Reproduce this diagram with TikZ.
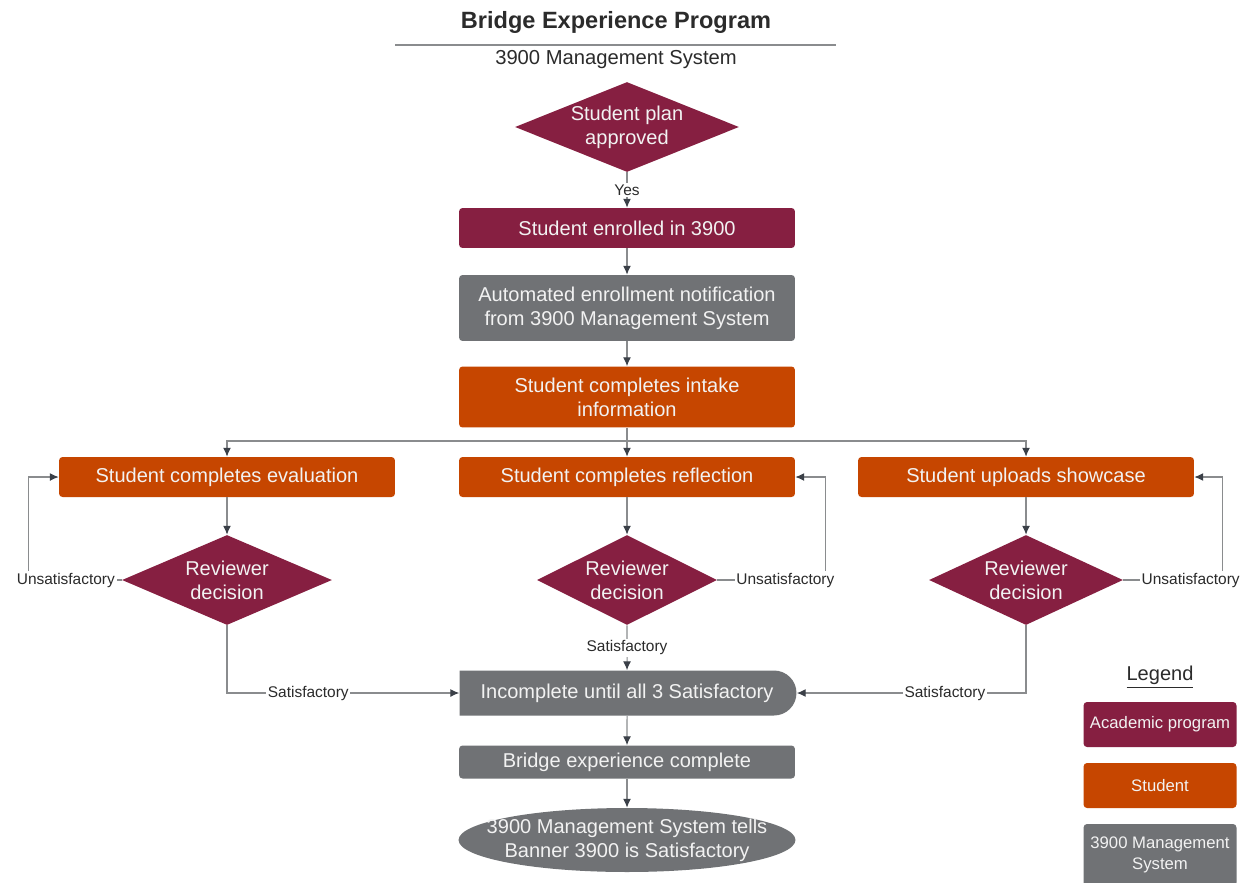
\documentclass[tikz,border=0pt]{standalone}
\usepackage{fontspec}
\setmainfont{Liberation Sans}
\usepackage{xcolor}
\usetikzlibrary{arrows.meta,positioning,shapes.geometric,shapes.misc}
\definecolor{vtmaroon}{HTML}{861F41}
\definecolor{vtorange}{HTML}{C64600}
\definecolor{sysgray}{HTML}{707275}
\definecolor{linegray}{HTML}{8A8C8E}
\definecolor{tipgray}{HTML}{3B4048}
\definecolor{textdark}{HTML}{2B2B2B}

\begin{document}
\begin{tikzpicture}[x=0.02cm,y=-0.02cm,
  every node/.style={font=\fontsize{11.4}{13.6}\selectfont,align=center},
  box/.style={rectangle,rounded corners=2pt,minimum width=6.72cm,
              minimum height=0.8cm,inner sep=0pt,text=white!95!black},
  acad/.style={box,fill=vtmaroon},
  stud/.style={box,fill=vtorange},
  sys/.style={box,fill=sysgray},
  dec/.style={diamond,fill=vtmaroon,text=white!95!black,inner sep=0pt,
              aspect=2,minimum height=1.8cm},
  flow/.style={draw=linegray,line width=0.6pt,
               -{Latex[length=5pt,width=4.5pt,color=tipgray]}},
  lbl/.style={font=\fontsize{8.8}{10}\selectfont,fill=white,inner sep=1pt,
              text=textdark},
  legbox/.style={box,minimum width=3.06cm,minimum height=0.9cm,
                 font=\fontsize{9.5}{11.9}\selectfont},
]
\useasboundingbox[fill=white] (0,0) rectangle (1250,882);

\node[font=\bfseries\fontsize{13.4}{16}\selectfont,text=textdark] (title) at (616,22) {Bridge Experience Program};
\draw[linegray,line width=0.6pt] (395,45) -- (836,45);
\node[font=\fontsize{11.5}{14}\selectfont,text=textdark] (sub) at (616,60) {3900 Management System};

\node[dec,aspect=2.6,minimum width=4.48cm] (plan) at (627,127) {Student plan\\approved};
\node[acad] (enrol) at (627,228) {Student enrolled in 3900};
\node[sys,minimum height=1.32cm] (notify) at (627,308) {Automated enrollment notification\\from 3900 Management System};
\node[stud,minimum height=1.22cm] (intake) at (627,397) {Student completes intake\\information};

\node[stud] (eval) at (227,477) {Student completes evaluation};
\node[stud] (refl) at (627,477) {Student completes reflection};
\node[stud] (show) at (1026,477) {Student uploads showcase};

\node[dec,minimum width=4.2cm] (deval) at (227,580) {Reviewer\\decision};
\node[dec,minimum width=3.6cm] (drefl) at (627,580) {Reviewer\\decision};
\node[dec,minimum width=3.88cm] (dshow) at (1026,580) {Reviewer\\decision};

\node[rounded rectangle,rounded rectangle west arc=none,fill=sysgray,
      text=white!95!black,inner sep=0pt,minimum width=6.74cm,
      minimum height=0.9cm] (incomp) at (627,693) {Incomplete until all 3 Satisfactory};
\node[sys,minimum height=0.66cm] (done) at (627,762) {Bridge experience complete};
\node[ellipse,fill=sysgray,minimum width=6.74cm,minimum height=1.28cm] (tell) at (627,840) {};
\node[text=white!95!black] (telltxt) at (tell.center) {3900 Management System tells\\Banner 3900 is Satisfactory};

\draw[flow] (plan) -- node[lbl]{Yes} (enrol);
\draw[flow] (enrol) -- (notify);
\draw[flow] (notify) -- (intake);
\coordinate (split) at (627,441);
\draw[linegray,line width=0.6pt] (intake) -- (split);
\draw[flow] (split) -| (eval);
\draw[flow] (split) -- (refl);
\draw[flow] (split) -| (show);

\draw[flow] (eval) -- (deval);
\draw[flow] (refl) -- (drefl);
\draw[flow] (show) -- (dshow);

\draw[flow] (deval.west) -- node[lbl,pos=0.6]{Unsatisfactory} ++(-93,0) |- (eval.west);
\draw[flow] (drefl.east) -- node[lbl,pos=0.63]{Unsatisfactory} ++(108,0) |- (refl.east);
\draw[flow] (dshow.east) -- node[lbl,pos=0.68]{Unsatisfactory} ++(99,0) |- (show.east);

\draw[flow] (deval) |- node[lbl,pos=0.675]{Satisfactory} (incomp);
\draw[flow] (drefl) -- node[lbl]{Satisfactory} (incomp);
\draw[flow] (dshow) |- node[lbl,pos=0.677]{Satisfactory} (incomp);

\draw[flow] (incomp) -- (done);
\draw[flow] (done) -- (tell);

\node[text=textdark] (legend) at (1160,677) {\underline{Legend}};
\node[legbox,fill=vtmaroon] (legacad) at (1160,724.5) {Academic program};
\node[legbox,fill=vtorange] (legstud) at (1160,785.5) {Student};
\node[legbox,fill=sysgray,minimum height=1.24cm] (legsys) at (1160,855) {3900 Management\\System};
\end{tikzpicture}
\end{document}
